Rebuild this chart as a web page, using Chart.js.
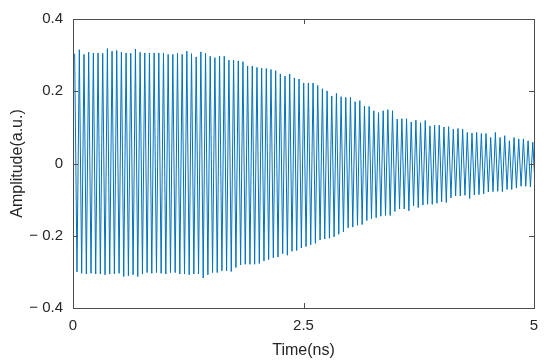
<!DOCTYPE html>
<html>
<head>
<meta charset="utf-8">
<script src="https://cdn.jsdelivr.net/npm/chart.js@4/dist/chart.umd.min.js"></script>
<style>
  html, body { margin: 0; padding: 0; background: #fff; }
  #wrap { width: 550px; height: 364px; }
</style>
</head>
<body>
<div id="wrap"><canvas id="myChart" width="550" height="364"></canvas></div>
<script>
// peaks (one per cycle)
const upperPeaks = [
  0.304, 0.315, 0.302, 0.308, 0.306, 0.306, 0.305, 0.318, 0.311, 0.313,
  0.308, 0.306, 0.305, 0.317, 0.308, 0.306, 0.306, 0.306, 0.306, 0.306,
  0.302, 0.302, 0.305, 0.302, 0.311, 0.304, 0.295, 0.309, 0.305, 0.297,
  0.293, 0.297, 0.297, 0.286, 0.286, 0.284, 0.282, 0.270, 0.270, 0.266,
  0.264, 0.263, 0.260, 0.257, 0.248, 0.242, 0.248, 0.237, 0.234, 0.223,
  0.223, 0.223, 0.216, 0.207, 0.201, 0.187, 0.194, 0.185, 0.183, 0.183,
  0.171, 0.174, 0.159, 0.158, 0.146, 0.141, 0.146, 0.149, 0.146, 0.123,
  0.124, 0.124, 0.115, 0.120, 0.113, 0.119, 0.104, 0.106, 0.106, 0.101,
  0.102, 0.095, 0.097, 0.095, 0.086, 0.084, 0.086, 0.083, 0.083, 0.072,
  0.086, 0.072, 0.077, 0.063, 0.072, 0.068, 0.068, 0.063, 0.059
];
const lowerPeaks = [
  -0.300, -0.304, -0.306, -0.304, -0.306, -0.306, -0.308, -0.306, -0.306, -0.304,
  -0.313, -0.311, -0.308, -0.313, -0.306, -0.302, -0.304, -0.302, -0.304, -0.306,
  -0.302, -0.302, -0.306, -0.306, -0.308, -0.306, -0.306, -0.317, -0.308, -0.302,
  -0.302, -0.297, -0.297, -0.299, -0.288, -0.281, -0.279, -0.279, -0.279, -0.277,
  -0.270, -0.266, -0.261, -0.259, -0.250, -0.254, -0.243, -0.241, -0.234, -0.230,
  -0.225, -0.221, -0.212, -0.209, -0.207, -0.203, -0.196, -0.189, -0.178, -0.176,
  -0.171, -0.169, -0.158, -0.153, -0.150, -0.146, -0.144, -0.144, -0.133, -0.126,
  -0.126, -0.131, -0.117, -0.122, -0.115, -0.113, -0.113, -0.110, -0.106, -0.108,
  -0.095, -0.090, -0.090, -0.088, -0.097, -0.087, -0.086, -0.084, -0.079, -0.078,
  -0.077, -0.078, -0.072, -0.072, -0.068, -0.063, -0.063, -0.065, -0.062
];
// time of first peak and oscillation period (ns)
const firstPeak = 0.018;
const period = 0.0507;

const xTicks = [0, 2.5, 5];
const xTickLabels = ["0", "2.5", "5"];
const yTicks = [-0.4, -0.2, 0, 0.2, 0.4];
const yTickLabels = ["\u2212 0.4", "\u2212 0.2", "0", "0.2", "0.4"];

// build the trace: peak, trough, peak, ...
let points = [];
for (let i = 0; i < upperPeaks.length; i++) {
  let tp = firstPeak + i * period;
  points.push({ x: tp, y: upperPeaks[i] });
  points.push({ x: tp + period / 2, y: lowerPeaks[i] });
}

const FONT = "'Liberation Sans', Arial, Helvetica, sans-serif";
const axisColor = "#4d4d4d";

// box + inward ticks like matlab
const boxPlugin = {
  id: "box",
  afterDraw(chart) {
    const ctx = chart.ctx;
    const a = chart.chartArea;
    const xs = chart.scales.x, ys = chart.scales.y;
    ctx.save();
    ctx.strokeStyle = axisColor;
    ctx.lineWidth = 1;
    ctx.strokeRect(Math.round(a.left) + 0.5, Math.round(a.top) + 0.5,
      Math.round(a.right - a.left), Math.round(a.bottom - a.top));
    ctx.beginPath();
    xTicks.forEach(v => {
      let px = Math.round(xs.getPixelForValue(v)) + 0.5;
      ctx.moveTo(px, a.bottom); ctx.lineTo(px, a.bottom - 5);
      ctx.moveTo(px, a.top); ctx.lineTo(px, a.top + 5);
    });
    yTicks.forEach(v => {
      let py = Math.round(ys.getPixelForValue(v)) + 0.5;
      ctx.moveTo(a.left, py); ctx.lineTo(a.left + 5, py);
      ctx.moveTo(a.right, py); ctx.lineTo(a.right - 5, py);
    });
    ctx.stroke();
    ctx.restore();
  }
};

let ctx = document.getElementById("myChart");
let myChart = new Chart(ctx, {
  type: "line",
  data: {
    datasets: [{
      data: points,
      borderColor: "#0072BD",
      borderWidth: 1,
      pointRadius: 0,
      tension: 0,
      fill: false
    }]
  },
  options: {
    responsive: false,
    animation: false,
    events: [],
    layout: { padding: { left: 0, top: 12, right: 16, bottom: 0 } },
    plugins: { legend: { display: false }, tooltip: { enabled: false } },
    scales: {
      x: {
        type: "linear",
        min: 0, max: 5,
        afterBuildTicks: s => { s.ticks = xTicks.map(v => ({ value: v })); },
        afterFit: s => { s.height = 56; },
        grid: { display: false, drawTicks: false },
        border: { display: false },
        ticks: {
          padding: 9,
          maxRotation: 0,
          autoSkip: false,
          color: "#262626",
          font: { family: FONT, size: 15 },
          callback: (v) => xTickLabels[xTicks.indexOf(v)]
        },
        title: {
          display: true,
          text: "Time(ns)",
          color: "#262626",
          font: { family: FONT, size: 16 },
          padding: { top: 0, bottom: 4 }
        }
      },
      y: {
        min: -0.4, max: 0.4,
        afterBuildTicks: s => { s.ticks = yTicks.map(v => ({ value: v })); },
        afterFit: s => { s.width = 73; },
        grid: { display: false, drawTicks: false },
        border: { display: false },
        ticks: {
          padding: 10,
          autoSkip: false,
          color: "#262626",
          font: { family: FONT, size: 15 },
          callback: (v) => yTickLabels[yTicks.findIndex(t => Math.abs(t - v) < 1e-9)]
        },
        title: {
          display: true,
          text: "Amplitude(a.u.)",
          color: "#262626",
          font: { family: FONT, size: 16 },
          padding: { top: 8, bottom: 0 }
        }
      }
    }
  },
  plugins: [boxPlugin]
});
</script>
</body>
</html>
